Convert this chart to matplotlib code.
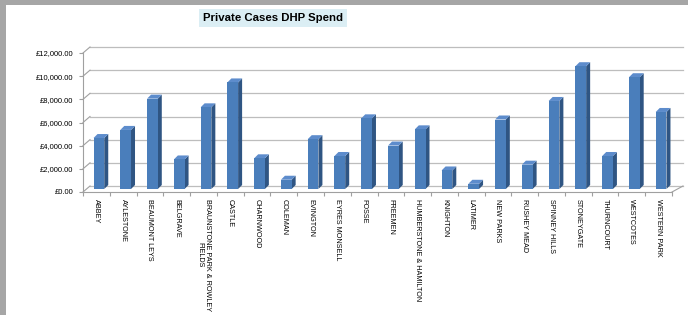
import matplotlib
matplotlib.use("Agg")
import matplotlib.pyplot as plt
from matplotlib.patches import Polygon, Rectangle
from matplotlib.ticker import FuncFormatter, MultipleLocator

plt.rcParams['font.family'] = ['Liberation Sans', 'DejaVu Sans']

# data
wards = ["ABBEY", "AYLESTONE", "BEAUMONT LEYS", "BELGRAVE",
         "BRAUNSTONE PARK & ROWLEY\nFIELDS", "CASTLE", "CHARNWOOD", "COLEMAN",
         "EVINGTON", "EYRES MONSELL", "FOSSE", "FREEMEN",
         "HUMBERSTONE & HAMILTON", "KNIGHTON", "LATIMER", "NEW PARKS",
         "RUSHEY MEAD", "SPINNEY HILLS", "STONEYGATE", "THURNCOURT",
         "WESTCOTES", "WESTERN PARK"]
spend = [4400, 5100, 7800, 2550, 7050, 9200, 2650, 800,
         4300, 2850, 6100, 3750, 5150, 1600, 450, 6000,
         2100, 7600, 10600, 2850, 9650, 6650]
y_max = 12000
y_step = 2000

W, H = 688, 315
fig = plt.figure(figsize=(W / 100, H / 100), dpi=100)
fig.patch.set_facecolor('white')

# grey frame round the chart (left and top)
fig.patches.append(Rectangle((0, 0), 6 / W, 1, transform=fig.transFigure,
                             facecolor='#a6a6a6', edgecolor='none', zorder=0))
fig.patches.append(Rectangle((0, 1 - 5 / H), 1, 5 / H, transform=fig.transFigure,
                             facecolor='#a6a6a6', edgecolor='none', zorder=0))

left, right, bottom, top = 83, 672, 192, 53
ax = fig.add_axes([left / W, (H - bottom) / H, (right - left) / W, (bottom - top) / H])
ax.set_facecolor('none')
n = len(wards)
ax.set_xlim(0, n)
ax.set_ylim(0, y_max)
for s in ax.spines.values():
    s.set_visible(False)

# pixel -> data scale for the fake 3D depth
px_x = n / (right - left)
px_y = y_max / (bottom - top)

# back wall gridlines (shifted up/right) + little links to the front axis
wall_dx, wall_dy = 7, 6
grid_col = '#bdbdbd'
for v in range(0, y_max + 1, y_step):
    ax.plot([wall_dx * px_x, n + 11 * px_x], [v + wall_dy * px_y] * 2,
            color=grid_col, lw=0.9, clip_on=False, zorder=1)
    ax.plot([0, wall_dx * px_x], [v, v + wall_dy * px_y],
            color='#a0a0a0', lw=0.8, clip_on=False, zorder=1)
# front axis lines and floor right edge
ax.plot([0, 0], [0, y_max], color='#a0a0a0', lw=0.8, clip_on=False, zorder=1)
ax.plot([0, n], [0, 0], color='#a0a0a0', lw=0.8, clip_on=False, zorder=1)
ax.plot([n, n + 11 * px_x], [0, wall_dy * px_y], color='#a0a0a0', lw=0.8,
        clip_on=False, zorder=1)

# bars: front face + dark side + lighter top
bw = 0.4
off_x, off_y = 2.5 * px_x, 3 * px_y
dep_x, dep_y = 4 * px_x, 4 * px_y
for i, v in enumerate(spend):
    xl = i + 0.5 - bw / 2 + off_x
    xr = xl + bw
    b = off_y
    t = v + off_y
    ax.add_patch(Polygon([(xr, b), (xr + dep_x, b + dep_y), (xr + dep_x, t + dep_y), (xr, t)],
                         closed=True, facecolor='#2f5583', edgecolor='none', zorder=3, clip_on=False))
    ax.add_patch(Polygon([(xl, t), (xl + dep_x, t + dep_y), (xr + dep_x, t + dep_y), (xr, t)],
                         closed=True, facecolor='#5d8ccc', edgecolor='none', zorder=3, clip_on=False))
    ax.add_patch(Rectangle((xl, b), bw, v, facecolor='#4a7ebb', edgecolor='none',
                           zorder=4, clip_on=False))

# y axis ticks
ax.yaxis.set_major_locator(MultipleLocator(y_step))
ax.yaxis.set_major_formatter(FuncFormatter(lambda v, p: '£{:,.2f}'.format(v)))
ax.tick_params(axis='y', length=3, width=0.8, color='#a0a0a0', pad=4,
               labelsize=5.5, labelcolor='#000000')

# x axis: boundary ticks, labels at centres
ax.set_xticks(range(n + 1), minor=True)
ax.set_xticks([i + 0.5 for i in range(n)])
ax.set_xticklabels(wards, rotation=270, va='top', ha='center', multialignment='center')
ax.tick_params(axis='x', which='major', length=0, pad=5, labelsize=5.2)
ax.tick_params(axis='x', which='minor', length=3, width=0.8, color='#a0a0a0')

fig.text(273 / W, 1 - 18 / H, 'Private Cases DHP Spend', ha='center', va='center',
         fontsize=8.2, fontweight='bold',
         bbox=dict(boxstyle='square,pad=0.35', facecolor='#dbeef4', edgecolor='none'))

fig.savefig('out.png', dpi=100)
